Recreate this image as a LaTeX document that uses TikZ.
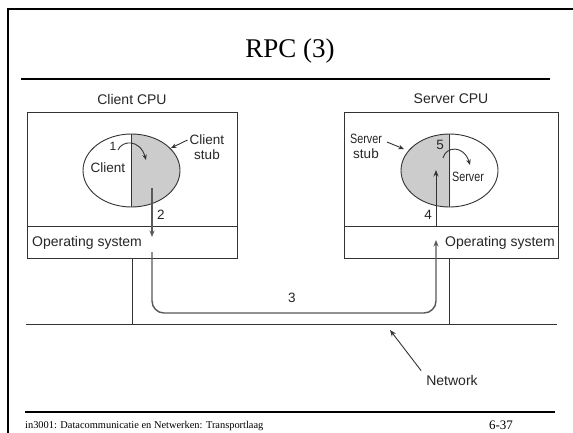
\documentclass[tikz,border=0pt]{standalone}
\usepackage{fontspec}
\setmainfont{Liberation Serif}
\newfontfamily\labelfont{Liberation Sans}
\usetikzlibrary{arrows.meta,shapes.geometric}
\begin{document}
\begin{tikzpicture}[x=1pt,y=-1pt,
  lbl/.style={font=\labelfont\fontsize{13.5}{15}\selectfont, inner sep=0pt, text=black!85},
  box/.style={draw=black!80, line width=0.9pt, inner sep=0pt},
  wire/.style={draw=black!80, line width=0.9pt},
  route/.style={draw=black!65, line width=1.4pt},
  tip/.style={-{Stealth[length=6.5pt,width=5pt]}},
  smalltip/.style={-{Stealth[length=5.5pt,width=4.5pt]}},
  frameline/.style={line width=2pt, black},
  proc/.style={ellipse, draw=black!80, line width=0.9pt, minimum width=97pt, minimum height=73pt, inner sep=0pt}]

\useasboundingbox (0,0) rectangle (573,432);
\clip (0,0) rectangle (573,432);
\fill[white] (0,0) rectangle (573,432);

% slide frame, title and rules
\draw[frameline] (8,440) -- (8,9) -- (580,9);
\node (title) [font=\fontsize{27}{30}\selectfont, anchor=base, inner sep=0pt] at (290,57) {RPC (3)};
\draw[frameline] (21,78.5) -- (550,78.5);
\draw[frameline] (25,412) -- (555,412);
\node (foot) [font=\fontsize{10.4}{12}\selectfont, anchor=base west, inner sep=0pt] at (25,428) {in3001: Datacommunicatie en Netwerken: Transportlaag};
\node (page) [font=\fontsize{13}{15}\selectfont, anchor=base, inner sep=0pt] at (501,429) {6-37};

% client machine
\node (ccpu) [box, minimum width=210pt, minimum height=114pt] at (132,169) {};
\node (cos)  [box, minimum width=210pt, minimum height=32pt] at (132,242) {};
\node (ccpulbl) [lbl, font=\labelfont\fontsize{14}{16}\selectfont] at (132,99) {Client CPU};
\node (coslbl) [lbl, font=\labelfont\fontsize{14}{16}\selectfont, anchor=west] at (32,243) {Operating system};
\begin{scope}
  \clip (132,120) rectangle (200,220);
  \fill[gray!40] (131.5,170.5) ellipse [x radius=48.5, y radius=36.5];
\end{scope}
\node (cproc) [proc] at (131.5,170.5) {};
\draw[wire] (cproc.north) -- (cproc.south);
\node (client) [lbl] at (108,168) {Client};
\node (cstub) [lbl, align=center] at (207,147) {Client\\stub};
\node (one) [lbl, font=\labelfont\fontsize{12}{14}\selectfont] at (113,146) {1};
\node (two) [lbl] at (161,215) {2};

% server machine
\node (scpu) [box, minimum width=214pt, minimum height=114pt] at (451,169) {};
\node (sos)  [box, minimum width=214pt, minimum height=32pt] at (451,242) {};
\node (scpulbl) [lbl, font=\labelfont\fontsize{14}{16}\selectfont] at (451,99) {Server CPU};
\node (soslbl) [lbl, font=\labelfont\fontsize{14}{16}\selectfont, anchor=west] at (445,243) {Operating system};
\begin{scope}
  \clip (380,120) rectangle (450,220);
  \fill[gray!40] (449.5,170.5) ellipse [x radius=48.5, y radius=36.5];
\end{scope}
\node (sproc) [proc] at (449.5,170.5) {};
\draw[wire] (sproc.north) -- (sproc.south);
\node (server) [lbl] at (468,177) {\scalebox{0.8}[1]{Server}};
\node (sstub) [lbl, align=center] at (366,146) {\scalebox{0.8}[1]{Server}\\stub};
\node (five) [lbl] at (440,145) {5};
\node (four) [lbl] at (428,215) {4};

% network and attachments
\coordinate (netL) at (26,324);
\coordinate (netR) at (557,324);
\coordinate (ctap) at (132,324);
\coordinate (stap) at (449,324);
\draw[wire] (netL) -- (netR);
\draw[wire] (cos.south) -- (ctap);
\draw[wire] (stap |- sos.south) -- (stap);
\node (netlbl) [lbl, font=\labelfont\fontsize{14}{16}\selectfont] at (452,380) {Network};
\coordinate (netpt) at (390,330);
\draw[wire, tip] (netlbl.north west) ++(-5,-4) coordinate (netfrom) -- (netpt);

% message path
\coordinate (m0) at (152,188);
\coordinate (m1) at (152,237);
\coordinate (r0) at (152,252);
\coordinate (r1) at (152,313);
\coordinate (r2) at (436,313);
\coordinate (r3) at (436,240);
\coordinate (u0) at (436,226);
\coordinate (u1) at (436,170);
\draw[route, tip] (m0) -- (m1);
\draw[route, tip, rounded corners=12pt] (r0) -- (r1) -- (r2) -- (r3);
\draw[wire, tip] (u0) -- (u1);
\node (three) [lbl] at (292,298) {3};

% call and return arcs, stub pointers
\coordinate (a0) at (118,150);
\coordinate (a1) at (146,160);
\draw[wire, smalltip] (a0) .. controls (122,140) and (140,139) .. (a1);
\coordinate (b0) at (443,158);
\coordinate (b1) at (470,165);
\draw[wire, smalltip] (b0) .. controls (446,146) and (464,145) .. (b1);
\coordinate (cs) at (171,148);
\draw[wire, smalltip] (cstub.west |- 0,140) ++(-2,0) -- (cs);
\coordinate (ss) at (404,149);
\draw[wire, smalltip] (387,142) -- (ss);
\end{tikzpicture}
\end{document}
